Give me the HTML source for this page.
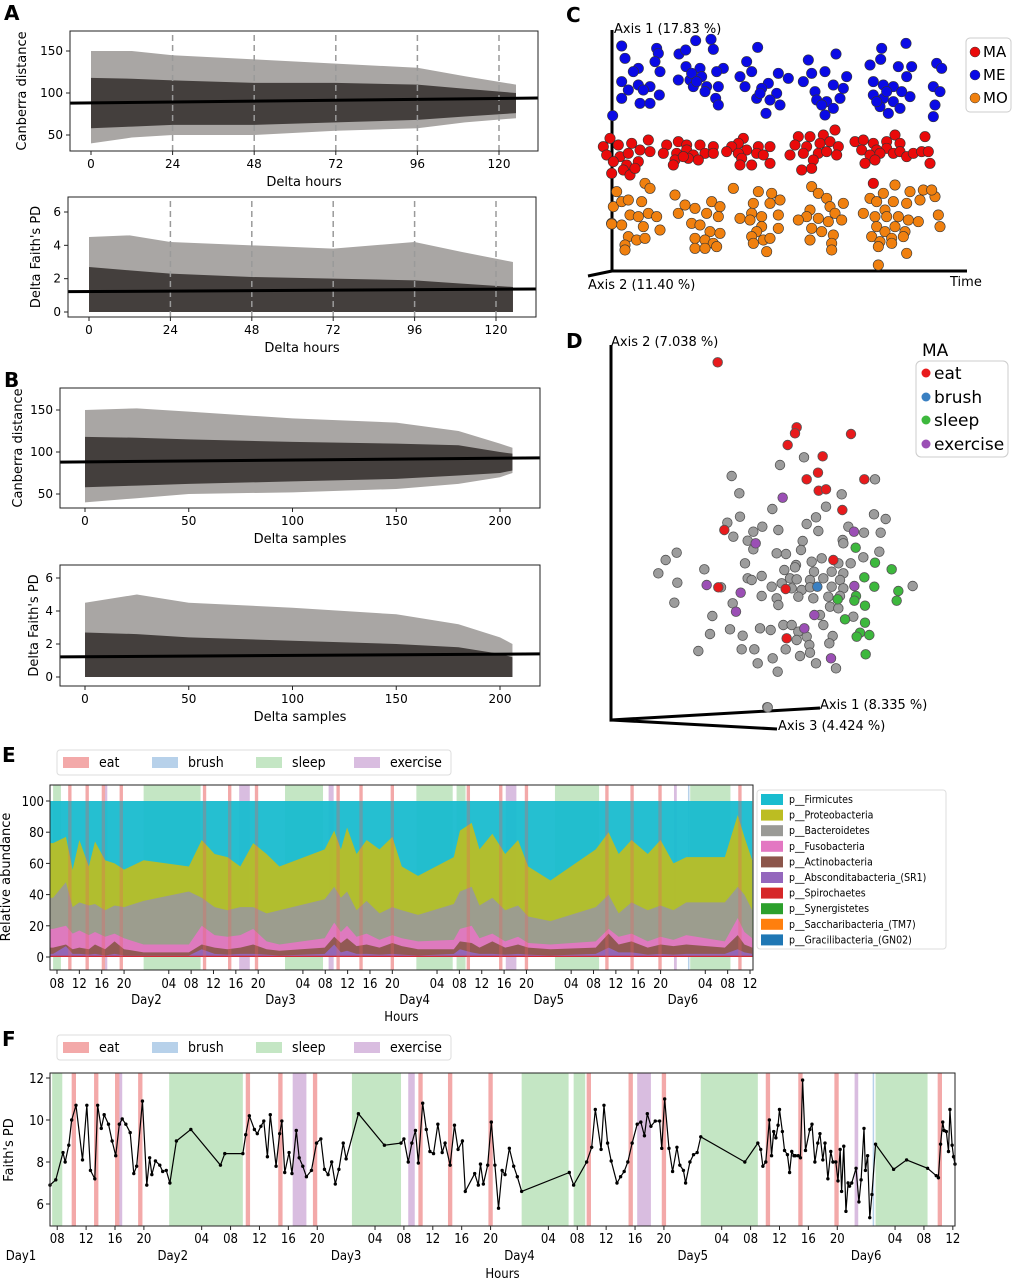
<!DOCTYPE html>
<html><head><meta charset="utf-8">
<style>
html,body{margin:0;padding:0;background:#fff;}
svg{display:block;font-family:"DejaVu Sans","Liberation Sans",sans-serif;}
.cond{font-family:"DejaVu Sans Condensed","DejaVu Sans","Liberation Sans",sans-serif;}
</style></head>
<body>
<svg id="fig" width="1012" height="1280" viewBox="0 0 1012 1280" xmlns="http://www.w3.org/2000/svg">
<text x="4" y="20" font-size="20" font-weight="bold">A</text>
<text x="4" y="387" font-size="20" font-weight="bold">B</text>
<text x="566" y="22" font-size="20" font-weight="bold">C</text>
<text x="566" y="348" font-size="20" font-weight="bold">D</text>
<text x="2" y="762" font-size="20" font-weight="bold">E</text>
<text x="2" y="1046" font-size="20" font-weight="bold">F</text>
<g id="gA1"></g>
<g id="gA2"></g>
<g id="gB1"></g>
<g id="gB2"></g>
<g id="gC"></g>
<g id="gD"></g>
<g id="gE" class="cond"></g>
<g id="gF" class="cond"></g>
</svg>
<script>
// ---------- Panel A/B data ----------
const aHours = [0, 12, 24, 48, 72, 96, 110, 125];
const a1CoreLo = [58, 60, 62, 62, 65, 68, 72, 76];
const a1CoreHi = [118, 117, 115, 112, 112, 110, 105, 100];
const a1OuterLo = [40, 47, 50, 50, 55, 58, 65, 70];
const a1OuterHi = [150, 150, 145, 140, 135, 130, 120, 110];
const a1Fit = [88, 94];
const a2CoreLo = [0, 0, 0, 0, 0, 0, 0, 0];
const a2CoreHi = [2.7, 2.5, 2.3, 2.1, 2.0, 1.9, 1.7, 1.5];
const a2OuterHi = [4.5, 4.6, 4.2, 4.0, 3.8, 4.2, 3.6, 3.0];
const a2Fit = [1.22, 1.38];
const bSamples = [0, 25, 50, 100, 150, 180, 200, 206];
const b1CoreLo = [58, 60, 62, 65, 68, 72, 75, 78];
const b1CoreHi = [118, 117, 115, 112, 110, 108, 100, 98];
const b1OuterLo = [40, 45, 50, 52, 56, 62, 70, 75];
const b1OuterHi = [150, 152, 148, 140, 135, 125, 110, 105];
const b1Fit = [88, 93];
const b2CoreLo = [0, 0, 0, 0, 0, 0, 0, 0];
const b2CoreHi = [2.7, 2.6, 2.4, 2.2, 2.0, 1.8, 1.4, 1.2];
const b2OuterHi = [4.5, 5.0, 4.5, 4.2, 3.8, 3.2, 2.4, 2.0];
const b2Fit = [1.22, 1.4];
const aXTicks = [0, 24, 48, 72, 96, 120];
const aDashed = [24, 48, 72, 96, 120];
const bXTicks = [0, 50, 100, 150, 200];
const canTicks = [50, 100, 150];
const faithDeltaTicks = [0, 2, 4, 6];

// ---------- Panel C data ----------
const cME = [[1.85,1.38],[2.9,1.45],[2.95,1.6],[1.95,1.75],[2.85,1.85],[2.35,2.05],[2.2,2.15],[3.0,2.15],[1.85,2.45],[2.05,2.7],[2.35,2.55],[2.7,2.6],[2.5,2.7],[1.85,2.95],[2.4,3.1],[2.7,3.1],[2.98,2.85],[1.58,3.47],
[4.07,1.22],[4.53,1.18],[3.57,1.62],[3.77,1.5],[4.6,1.48],[3.78,2.0],[4.2,2.05],[4.9,2.05],[3.55,2.4],[3.9,2.4],[4.25,2.3],[4.7,2.15],[4.0,2.6],[4.4,2.6],[4.75,2.6],[4.35,2.75],[4.67,2.95],[4.75,3.15],[3.95,2.2],[4.1,2.45],
[5.93,1.42],[5.6,1.85],[5.75,2.15],[6.55,2.2],[5.4,2.3],[6.25,2.5],[6.85,2.35],[5.55,2.6],[6.05,2.65],[6.5,2.8],[5.9,2.95],[6.3,3.0],[6.6,3.15],[6.18,3.4],[6.0,2.8],
[8.28,1.62],[7.45,1.8],[7.55,2.2],[7.95,2.15],[8.6,2.3],[7.3,2.45],[8.2,2.55],[7.65,2.75],[8.5,2.65],[7.7,3.0],[8.0,3.05],[8.4,2.95],[7.85,3.15],[8.2,3.25],[7.95,3.45],
[9.65,1.45],[10.38,1.3],[9.62,1.78],[9.3,1.95],[10.15,2.0],[10.55,2.0],[9.4,2.45],[9.7,2.55],[10.0,2.6],[10.4,2.3],[9.4,2.85],[9.7,2.95],[10.0,3.05],[10.5,2.9],[9.6,3.2],[9.85,3.4],[10.2,3.25],[9.5,3.05],[9.8,2.75],[10.25,2.75],[11.3,1.9],[11.45,2.05],[11.2,2.6],[11.4,2.75],[11.25,3.15],[11.2,3.5]];
const cMA = [[1.3,4.4],[1.5,4.15],[1.75,4.35],[2.15,4.3],[2.65,4.2],[1.4,4.65],[1.8,4.7],[2.05,4.6],[2.4,4.5],[2.7,4.55],[1.6,4.85],[2.0,4.95],[2.35,4.85],[1.55,5.2],[1.9,5.1],[2.1,5.25],[2.25,5.05],
[3.2,4.35],[3.55,4.25],[3.8,4.35],[4.2,4.35],[4.6,4.4],[3.1,4.6],[3.5,4.6],[3.8,4.5],[4.0,4.65],[4.35,4.6],[4.6,4.6],[3.45,4.8],[3.85,4.75],[4.15,4.8],[3.4,4.95],[3.7,4.7],
[5.5,4.15],[5.35,4.3],[5.15,4.4],[5.6,4.5],[5.95,4.4],[6.3,4.4],[5.0,4.55],[5.35,4.6],[5.9,4.6],[6.1,4.65],[5.45,4.75],[5.75,4.95],[6.3,4.9],[5.4,4.95],
[7.15,4.1],[7.5,4.1],[7.9,4.05],[8.25,3.9],[7.05,4.35],[7.4,4.4],[7.8,4.3],[8.1,4.25],[8.35,4.4],[6.9,4.65],[7.3,4.6],[7.75,4.6],[8.0,4.55],[8.3,4.65],[7.6,4.8],[7.25,5.1],[7.55,5.05],
[8.85,4.25],[9.1,4.2],[9.4,4.3],[9.8,4.25],[10.05,4.05],[9.05,4.5],[9.5,4.5],[9.8,4.45],[10.2,4.3],[9.3,4.65],[9.6,4.6],[10.0,4.6],[10.2,4.55],[9.15,4.9],[9.45,4.8],[10.4,4.7],[10.6,4.6],[10.85,4.55],[10.95,4.1],[11.05,4.55],[11.1,4.9],[9.4,5.5]];
const cMO = [[1.7,5.75],[2.55,5.5],[2.7,5.65],[1.6,6.2],[1.85,6.05],[2.05,6.0],[2.45,6.05],[2.1,6.45],[2.65,6.4],[2.9,6.5],[1.55,6.7],[1.85,6.75],[2.35,6.5],[2.5,6.8],[3.0,6.9],[2.05,7.1],[2.3,7.2],[2.55,7.15],[1.95,7.35],[1.95,7.5],[1.55,6.72],
[3.45,5.85],[3.75,6.15],[4.05,6.25],[4.55,6.05],[4.8,6.2],[3.55,6.4],[3.95,6.7],[4.4,6.4],[4.75,6.5],[4.2,6.75],[4.5,6.95],[4.8,7.0],[4.05,7.15],[4.35,7.2],[4.6,7.3],[4.05,7.45],[4.35,7.45],[4.7,7.4],
[5.2,5.65],[5.95,5.75],[6.35,5.8],[5.8,6.1],[6.3,6.1],[6.6,6.0],[5.75,6.4],[6.05,6.5],[6.55,6.45],[5.4,6.55],[5.7,6.6],[6.05,6.8],[6.55,6.85],[5.9,6.95],[5.75,7.1],[6.1,7.2],[6.3,7.15],[5.8,7.3],[6.2,7.55],
[7.55,5.6],[7.75,5.8],[8.0,5.95],[7.5,6.3],[8.1,6.2],[8.5,6.1],[7.4,6.5],[7.75,6.55],[8.25,6.4],[7.15,6.6],[7.55,6.85],[8.05,6.65],[8.45,6.6],[7.85,6.95],[8.2,7.05],[7.5,7.2],[8.15,7.3],[8.15,7.5],
[9.7,5.8],[10.05,5.55],[10.5,5.75],[9.3,5.95],[9.5,6.05],[9.75,6.3],[10.0,6.05],[10.4,6.1],[9.1,6.4],[9.45,6.5],[9.8,6.5],[10.15,6.5],[10.45,6.6],[9.5,6.8],[9.75,6.95],[10.05,6.8],[10.35,6.95],[9.35,7.1],[9.6,7.25],[9.95,7.15],[10.3,7.1],[9.55,7.4],[9.95,7.3],[10.4,7.6],[9.55,7.95],[10.8,6.0],[10.9,5.7],[11.25,5.9],[11.35,6.45],[11.4,6.8],[11.15,5.7],[10.75,6.65]];

// ---------- Panel D data ----------
const dGray = [[6.42,3.82],[5.7,4.05],[4.25,4.38],[8.55,4.48],[4.48,4.9],[7.55,4.93],[7.08,5.3],[5.47,5.37],[8.52,5.53],[8.87,5.67],[4.5,5.6],[6.78,5.62],[4.12,5.78],[5.17,5.9],[6.5,5.82],[4.9,6.05],[5.65,6.0],[6.85,6.03],[7.75,5.9],[8.22,6.08],[8.72,6.08],[4.3,6.2],[4.73,6.32],[6.38,6.33],[7.58,6.3],[7.6,6.4],[4.9,6.58],[5.6,6.7],[5.88,6.72],[6.33,6.6],[8.68,6.65],[2.6,6.68],[2.27,6.9],[8.2,6.82],[6.95,6.85],[4.65,7.0],[6.18,7.05],[6.65,6.95],[7.45,7.0],[7.82,7.0],[3.43,7.18],[2.05,7.3],[5.83,7.2],[6.15,7.12],[6.72,7.25],[7.25,7.25],[7.6,7.3],[4.73,7.45],[5.15,7.38],[6.0,7.45],[6.2,7.48],[6.6,7.5],[7.0,7.45],[7.5,7.5],[2.62,7.58],[4.85,7.5],[5.45,7.7],[5.75,7.6],[6.05,7.75],[6.35,7.8],[6.6,7.72],[7.25,7.7],[7.6,7.75],[9.68,7.68],[3.93,7.72],[5.15,7.98],[5.6,8.05],[6.25,8.0],[6.7,8.05],[7.15,8.0],[7.5,7.98],[2.53,8.18],[4.28,8.2],[5.65,8.25],[7.2,8.3],[7.45,8.35],[6.9,8.55],[7.9,8.6],[3.67,8.58],[5.8,8.85],[6.05,8.85],[7.0,8.85],[5.1,8.95],[5.42,9.0],[4.2,8.98],[3.6,9.12],[4.58,9.17],[6.25,9.05],[6.5,9.2],[7.28,9.18],[6.2,9.3],[7.18,9.4],[6.58,9.45],[4.55,9.58],[4.93,9.58],[5.87,9.58],[6.6,9.68],[3.25,9.63],[6.3,9.78],[5.48,9.85],[6.78,10.0],[5.03,10.0],[5.63,10.25],[7.38,10.15],[5.33,11.32]];
const dEat = [[3.83,0.97],[6.2,2.92],[6.15,3.1],[5.93,3.45],[7.83,3.12],[6.98,3.79],[6.84,4.28],[6.5,4.48],[8.23,4.48],[6.86,4.82],[7.08,4.78],[7.57,5.4],[4.03,6.0],[3.85,7.72],[5.9,9.25],[7.3,6.9],[5.87,7.77]];
const dBrush = [[6.82,7.7]];
const dSleep = [[7.97,6.53],[8.55,6.98],[9.05,7.18],[8.23,7.42],[8.53,7.7],[9.25,7.83],[9.2,8.12],[7.43,8.08],[7.98,7.98],[7.93,8.12],[8.25,8.27],[7.65,8.68],[8.25,8.78],[8.1,9.08],[8.38,9.15],[8.0,9.2],[8.27,9.73]];
const dExercise = [[5.78,5.03],[4.97,6.4],[7.92,6.05],[3.5,7.65],[4.52,7.88],[4.38,8.45],[6.73,8.55],[6.43,8.95],[7.23,9.85],[7.93,7.68]];

// ---------- Shared event data (hours since Day1 00:00) ----------
const eatHours = [10.3,13.4,16.3,19.5,34.4,38.9,43.7,58.3,62.4,68.0,81.6,87.4,92.0,106.4,110.9,115.9,130.2];
const sleepSpans = [[7.3,8.7],[23.5,33.7],[48.8,55.6],[72.3,78.8],[79.5,81.1],[97.1,105.0],[121.3,128.5]];
const exerciseSpans = [[16.5,17.0],[40.6,42.5],[56.6,57.5],[88.3,90.2],[118.4,118.9]];
const brushHours = [120.9];

// ---------- Panel E data (cumulative stacked levels, %) ----------
const sampleHours = [7.3,9.6,10.8,12,13.7,14.8,16.6,18.3,20,23.5,31.6,33.9,36.2,38.5,40.8,43.1,45.5,47.8,55.9,57.6,58.8,59.9,61.6,63.4,65.7,68,69.7,72.6,79,80.1,82.2,83.6,85.9,88.2,90.5,92.3,96.3,104.4,106.7,108.5,110.8,113.7,116,118.3,120.6,127.5,129.8,131,132.4];
const levelProteo = [73,77,56,75,58,74,62,60,56,62,58,75,66,64,58,73,66,58,69,81,69,83,66,75,69,77,58,52,64,81,86,69,79,66,75,58,49,69,80,66,75,66,75,60,64,64,91,77,62];
const levelBacter = [38,48,32,35,33,34,30,33,32,36,42,38,32,30,32,32,28,30,37,45,38,42,30,36,28,32,30,27,34,42,45,33,38,30,33,26,23,32,40,28,35,30,33,30,35,35,45,40,30];
const levelFuso = [18,20,15,17,14,16,13,15,12,8,8,20,14,13,14,18,10,8,12,22,16,20,13,15,11,14,12,10,11,18,20,12,15,10,13,9,8,10,18,13,15,10,13,11,14,10,25,16,12];
const levelActino = [6,8,5,6,5,8,5,10,5,3,3,8,6,5,6,8,5,4,6,13,9,12,7,8,6,9,7,5,5,10,9,6,10,6,8,6,5,6,15,8,10,6,8,7,8,6,14,8,6];
const levelSR1 = [2,7,2,2,1.5,2,1,2,1,1,1,5,2,1.5,2,2,1.5,1,2,8,3,4,2,2,1.5,2,1.5,1,2,5,3,2,2,1.5,2,1.5,1,2,6,3,3,1.5,2,1.5,2,2,5,3,2];
const levelSpiro = [0.8,0.8,0.8,0.8,0.8,0.8,0.8,0.8,0.8,0.8,0.8,0.8,0.8,0.8,0.8,0.8,0.8,0.8,0.8,0.8,0.8,0.8,0.8,0.8,0.8,0.8,0.8,0.8,0.8,0.8,0.8,0.8,0.8,0.8,0.8,0.8,0.8,0.8,0.8,0.8,0.8,0.8,0.8,0.8,0.8,0.8,0.8,0.8,0.8];
const phylumNames = ["p__Firmicutes","p__Proteobacteria","p__Bacteroidetes","p__Fusobacteria","p__Actinobacteria","p__Absconditabacteria_(SR1)","p__Spirochaetes","p__Synergistetes","p__Saccharibacteria_(TM7)","p__Gracilibacteria_(GN02)"];
const eYTicks = [0,20,40,60,80,100];

// ---------- Panel F data ----------
const fHours = [7.0,7.8,8.8,9.1,9.6,10.0,10.6,11.5,12.1,12.6,13.2,13.6,14.1,14.5,15.1,15.6,16.1,16.6,17.0,17.5,18.1,18.6,19.0,19.8,20.4,20.8,21.1,21.6,22.2,22.6,23.1,23.6,24.5,26.5,30.6,31.2,33.7,34.1,34.6,35.3,35.7,36.2,36.6,37.1,37.5,38.3,38.8,39.1,39.5,40.1,40.5,41.1,41.5,42.0,42.5,43.2,43.9,44.5,45.0,45.5,46.0,46.5,47.0,47.6,48.0,49.7,53.3,55.6,56.0,56.6,57.1,57.6,58.0,58.6,59.1,59.6,60.1,60.7,61.3,61.7,62.4,63.0,63.5,64.1,64.5,65.8,66.3,66.6,67.0,67.6,68.1,68.6,69.1,69.6,70.0,70.6,71.2,71.7,72.3,78.9,79.5,81.3,82.0,82.5,83.3,83.7,84.2,84.7,85.5,86.0,86.5,87.0,87.6,88.3,88.8,89.3,89.7,90.2,90.8,91.4,91.7,92.1,92.7,93.2,93.8,94.2,94.7,95.0,95.6,96.1,96.6,97.1,103.2,105.0,105.4,105.7,106.1,106.6,106.9,107.2,107.5,107.8,108.0,108.4,108.7,109.1,109.4,109.7,110.0,110.2,110.6,110.9,111.2,111.6,112.2,112.5,112.9,113.3,113.6,114.0,114.3,114.7,115.1,115.4,115.8,116.1,116.4,116.6,116.9,117.2,117.5,117.7,118.0,118.6,119.0,119.3,119.7,119.9,120.2,120.5,120.8,121.3,123.8,125.6,128.5,129.7,130.0,130.3,130.6,130.8,131.1,131.4,131.6,131.9,132.1,132.3];
const fValues = [6.9,7.15,8.45,8.0,8.8,10.0,10.7,8.1,10.7,7.6,7.2,10.7,9.6,10.25,9.8,9.0,8.3,9.8,10.05,9.8,9.4,7.45,7.8,10.9,6.9,8.2,7.4,8.05,7.85,7.55,7.6,7.0,9.0,9.55,7.85,8.4,8.4,9.3,10.2,9.55,9.35,9.7,9.95,8.25,10.25,7.8,9.35,9.95,7.5,8.45,7.45,9.5,8.2,7.8,7.3,7.6,8.9,9.1,7.65,7.4,8.0,6.95,7.65,8.9,8.15,10.3,8.8,8.9,9.1,8.0,8.9,9.5,7.95,10.8,9.55,8.5,8.4,9.8,8.45,8.9,7.85,9.75,8.6,9.0,6.6,7.45,6.9,7.9,6.95,7.85,9.9,7.85,5.8,7.6,7.4,8.65,7.8,7.3,6.6,7.5,6.9,8.0,8.7,10.5,8.6,10.7,8.9,8.05,7.0,7.3,7.55,8.0,8.9,9.8,9.9,9.25,10.3,9.7,9.95,9.95,8.65,11.0,8.65,7.55,8.7,7.85,7.6,7.0,8.0,8.35,8.45,9.2,8.0,8.9,8.6,7.8,8.0,10.0,8.3,9.45,9.15,9.75,10.5,9.45,8.55,8.35,7.5,8.5,8.3,8.3,8.3,8.2,11.9,8.55,9.55,9.8,8.0,8.9,9.35,8.1,8.9,7.2,8.5,8.0,8.0,7.1,8.6,6.6,8.75,5.65,7.0,6.85,7.0,7.7,6.1,7.15,9.6,7.6,8.3,5.35,6.45,8.85,7.65,8.1,7.7,7.35,7.25,8.85,9.9,9.5,9.45,8.5,10.5,8.8,8.25,7.9];
const fYTicks = [6,8,10,12];

// ---------- helpers ----------
const NS = 'http://www.w3.org/2000/svg';
function lin(d0, d1, r0, r1) { return v => r0 + (v - d0) * (r1 - r0) / (d1 - d0); }
function mk(parent, tag, attrs, txt) {
  const e = document.createElementNS(NS, tag);
  for (const k in attrs) e.setAttribute(k, attrs[k]);
  if (txt !== undefined) e.textContent = txt;
  parent.appendChild(e);
  return e;
}
function domainFrom(p0, v0, p1, v1, l, r) { const s = (p1-p0)/(v1-v0); return [v0 + (l-p0)/s, v0 + (r-p0)/s]; }

// ---------- scatter cloud panel ----------
function cloudPanel(gid, box, xd, yd, xs, lo1, hi1, lo2, hi2, fit, xticks, yticks, dashed, xlabel, ylabel, ylabX) {
  const g = document.getElementById(gid);
  const X = lin(xd[0], xd[1], box.l, box.r), Y = lin(yd[0], yd[1], box.b, box.t);
  let pts = xs.map((x,i)=>X(x)+','+Y(hi2[i])).join(' ') + ' ' + xs.slice().reverse().map((x,i)=>X(x)+','+Y(lo2[xs.length-1-i])).join(' ');
  const outer = mk(g, 'polygon', {points: pts, fill: '#a9a6a4', stroke: 'none'});
  
  
  pts = xs.map((x,i)=>X(x)+','+Y(hi1[i])).join(' ') + ' ' + xs.slice().reverse().map((x,i)=>X(x)+','+Y(lo1[xs.length-1-i])).join(' ');
  const core = mk(g, 'polygon', {points: pts, fill: '#443f3d', stroke: 'none'});
  
  
  dashed.forEach(d => {
    const l = mk(g, 'line', {x1: X(d), x2: X(d), y1: box.t + 4, y2: box.b, stroke: '#9a9a9a', 'stroke-width': 1.5, 'stroke-dasharray': '6,4'});
    
    
  });
  const fl = mk(g, 'line', {x1: box.l, x2: box.r, y1: Y(fit[0]), y2: Y(fit[1]), stroke: '#000', 'stroke-width': 3});
  
  
  const fr = mk(g, 'rect', {x: box.l, y: box.t, width: box.r-box.l, height: box.b-box.t, fill: 'none', stroke: '#222', 'stroke-width': 1});
  
  
  xticks.forEach(t => {
    const tk = mk(g, 'line', {x1: X(t), x2: X(t), y1: box.b, y2: box.b+4, stroke: '#222'});
    
    
    const tl = mk(g, 'text', {x: X(t), y: box.b+17, 'font-size': 12, 'text-anchor': 'middle'}, String(t));
    
    
  });
  yticks.forEach(t => {
    const tk = mk(g, 'line', {x1: box.l-4, x2: box.l, y1: Y(t), y2: Y(t), stroke: '#222'});
    
    
    const tl = mk(g, 'text', {x: box.l-7, y: Y(t)+4, 'font-size': 12, 'text-anchor': 'end'}, String(t));
    
    
  });
  const xl = mk(g, 'text', {x: (box.l+box.r)/2, y: box.b+35, 'font-size': 13, 'text-anchor': 'middle'}, xlabel);
  
  
  const cy = (box.t+box.b)/2;
  const yl = mk(g, 'text', {x: ylabX, y: cy, 'font-size': 13, 'text-anchor': 'middle', transform: 'rotate(-90 '+ylabX+' '+cy+')'}, ylabel);
  
  
}
cloudPanel('gA1', {l:70,r:538,t:31,b:151}, domainFrom(91,0,499,120,70,538), domainFrom(135,50,51,150,151,31), aHours, a1CoreLo, a1CoreHi, a1OuterLo, a1OuterHi, a1Fit, aXTicks, canTicks, aDashed, 'Delta hours', 'Canberra distance', 26);
cloudPanel('gA2', {l:68,r:536,t:197,b:317}, domainFrom(89,0,496,120,68,536), domainFrom(312,0,212,6,317,197), aHours, a2CoreLo, a2CoreHi, a2CoreLo, a2OuterHi, a2Fit, aXTicks, faithDeltaTicks, aDashed, 'Delta hours', "Delta Faith's PD", 40);
cloudPanel('gB1', {l:60,r:540,t:388,b:508}, domainFrom(85,0,500,200,60,540), domainFrom(494,50,410,150,508,388), bSamples, b1CoreLo, b1CoreHi, b1OuterLo, b1OuterHi, b1Fit, bXTicks, canTicks, [], 'Delta samples', 'Canberra distance', 22);
cloudPanel('gB2', {l:60,r:540,t:565,b:686}, domainFrom(85,0,500,200,60,540), domainFrom(677,0,578,6,686,565), bSamples, b2CoreLo, b2CoreHi, b2CoreLo, b2OuterHi, b2Fit, bXTicks, faithDeltaTicks, [], 'Delta samples', "Delta Faith's PD", 38);

// ---------- Panel C ----------
(function(){
  const g = document.getElementById('gC');
  const X = lin(0, 10, 560, 560+1000/3), Y = lin(0, 10, 0, 1000/3);
  const ax = mk(g, 'path', {d: 'M612,30 L612,271 L967,271 M612,271 L588,276', stroke: '#000', 'stroke-width': 3, fill: 'none'});
  
  
  const groups = [[cME,'#0a0ae6','me-point'],[cMA,'#ea0a0a','ma-point'],[cMO,'#f0800f','mo-point']];
  groups.forEach(([arr,col,nm]) => arr.forEach(p => {
    const c = mk(g, 'circle', {cx: X(p[0]), cy: Y(p[1]), r: 5.2, fill: col, stroke: '#333', 'stroke-width': 0.6});
    
    
  }));
  const t1 = mk(g, 'text', {x: 614, y: 33, 'font-size': 13}, 'Axis 1 (17.83 %)');
  
  
  const t2 = mk(g, 'text', {x: 588, y: 289, 'font-size': 13}, 'Axis 2 (11.40 %)');
  
  
  const t3 = mk(g, 'text', {x: 950, y: 286, 'font-size': 13}, 'Time');
  
  
  const lb = mk(g, 'rect', {x: 966, y: 38, width: 45, height: 74, rx: 4, fill: '#fff', stroke: '#ccc'});
  
  
  [['MA','#ea0a0a',52],['ME','#0a0ae6',75],['MO','#f0800f',98]].forEach(([n,c,y]) => {
    const d = mk(g, 'circle', {cx: 975, cy: y, r: 5, fill: c, stroke: '#333', 'stroke-width': 0.5});
    
    
    const t = mk(g, 'text', {x: 983, y: y+5, 'font-size': 15}, n);
    
    
  });
})();

// ---------- Panel D ----------
(function(){
  const g = document.getElementById('gD');
  const X = lin(0, 10, 590, 590+1000/3), Y = lin(0, 10, 330, 330+1000/3);
  const ax = mk(g, 'path', {d: 'M611,345 L611,720 L820,708 M611,720 L777,729', stroke: '#000', 'stroke-width': 3, fill: 'none'});
  
  
  const gp = mk(g, 'circle', {cx: 767, cy: 707, r: 4.5, fill: '#9a9a9a', stroke: '#555', 'stroke-width': 0.8});
  
  
  const groups = [[dGray,'#9c9c9c','sample-point'],[dEat,'#e81a1c','eat-point'],[dBrush,'#3a80c2','brush-point'],[dSleep,'#3db83d','sleep-point'],[dExercise,'#9b4fb5','exercise-point']];
  groups.forEach(([arr,col,nm]) => arr.forEach(p => {
    const c = mk(g, 'circle', {cx: X(p[0]), cy: Y(p[1]), r: 4.8, fill: col, stroke: '#555', 'stroke-width': 0.8});
    
    
  }));
  const t1 = mk(g, 'text', {x: 611, y: 346, 'font-size': 13}, 'Axis 2 (7.038 %)');
  
  
  const t2 = mk(g, 'text', {x: 820, y: 709, 'font-size': 13}, 'Axis 1 (8.335 %)');
  
  
  const t3 = mk(g, 'text', {x: 778, y: 730, 'font-size': 13}, 'Axis 3 (4.424 %)');
  
  
  const mt = mk(g, 'text', {x: 922, y: 356, 'font-size': 17}, 'MA');
  
  
  const lb = mk(g, 'rect', {x: 916, y: 361, width: 92, height: 96, rx: 5, fill: '#fff', stroke: '#ccc'});
  
  
  [['eat','#e81a1c',373],['brush','#3a80c2',397],['sleep','#3db83d',420],['exercise','#9b4fb5',444]].forEach(([n,c,y]) => {
    const d = mk(g, 'circle', {cx: 926, cy: y, r: 4.5, fill: c});
    
    
    const t = mk(g, 'text', {x: 934, y: y+6, 'font-size': 17}, n);
    
    
  });
})();

// ---------- Event backgrounds & time axis ----------
function drawEvents(g, X, top, bot) {
  sleepSpans.forEach(s => {
    const r = mk(g, 'rect', {x: X(s[0]), y: top, width: X(s[1])-X(s[0]), height: bot-top, fill: '#c4e6c4'});
    
    
  });
  exerciseSpans.forEach(s => {
    const r = mk(g, 'rect', {x: X(s[0]), y: top, width: X(s[1])-X(s[0]), height: bot-top, fill: '#d9bde0'});
    
    
  });
  brushHours.forEach(h => {
    const r = mk(g, 'rect', {x: X(h), y: top, width: 1.5, height: bot-top, fill: '#b7d1ea'});
    
    
  });
  eatHours.forEach(h => {
    const r = mk(g, 'rect', {x: X(h-0.3), y: top, width: X(h+0.3)-X(h-0.3), height: bot-top, fill: '#f3a9a9'});
    
    
  });
}
function drawTimeAxis(g, X, h0, h1, bot, tickY, dayY, hoursY, day1X) {
  for (let h = Math.ceil(h0); h <= h1; h++) {
    const m = h % 24;
    if (m % 4 !== 0 || m === 0) continue;
    const tk = mk(g, 'line', {x1: X(h), x2: X(h), y1: bot, y2: bot+4, stroke: '#222'});
    
    
    const tl = mk(g, 'text', {x: X(h), y: tickY, 'font-size': 13, 'text-anchor': 'middle'}, (m<10?'0':'')+m);
    
    
  }
  for (let d = 1; d <= 5; d++) {
    const dl = mk(g, 'text', {x: X(24*d), y: dayY, 'font-size': 13, 'text-anchor': 'middle'}, 'Day'+(d+1));
    
    
  }
  if (day1X) {
    const d1 = mk(g, 'text', {x: day1X, y: dayY, 'font-size': 13, 'text-anchor': 'middle'}, 'Day1');
    
    
  }
  const hl = mk(g, 'text', {x: (X(h0)+X(h1))/2, y: hoursY, 'font-size': 13, 'text-anchor': 'middle'}, 'Hours');
  
  
}
function drawEventLegend(g, x, y) {
  const b = mk(g, 'rect', {x: x, y: y, width: 394, height: 25, rx: 3, fill: '#fff', stroke: '#ddd'});
  
  
  [['eat','#f3a9a9',6],['brush','#b7d1ea',95],['sleep','#c4e6c4',199],['exercise','#d9bde0',297]].forEach(([n,c,dx]) => {
    const s = mk(g, 'rect', {x: x+dx, y: y+7, width: 26, height: 11, fill: c});
    
    
    const t = mk(g, 'text', {x: x+dx+36, y: y+17, 'font-size': 14}, n);
    
    
  });
}

// ---------- Panel E ----------
(function(){
  const g = document.getElementById('gE');
  const box = {l:50, r:753, t:785, b:970};
  const X = lin(8, 132, 57, 750), Y = lin(0, 100, 957, 801);
  const h0 = 6.75, h1 = 132.5;
  drawEvents(g, X, box.t, box.b);
  const fr0 = mk(g, 'rect', {x: X(h0), y: Y(100), width: X(sampleHours[sampleHours.length-1])-X(h0), height: Y(0)-Y(100), fill: '#19bccf', opacity: 0.95});
  
  
  const layers = [[levelProteo,'#bcbd22','area-proteobacteria'],[levelBacter,'#9a9a96','area-bacteroidetes'],[levelFuso,'#e377c2','area-fusobacteria'],[levelActino,'#8c564b','area-actinobacteria'],[levelSR1,'#9467bd','area-sr1'],[levelSpiro,'#d62728','area-spirochaetes']];
  layers.forEach(([arr,col,nm]) => {
    let d = 'M'+X(h0)+','+Y(0)+' L'+X(h0)+','+Y(arr[0]);
    sampleHours.forEach((h,i) => { d += ' L'+X(h)+','+Y(arr[i]); });
    d += ' L'+X(sampleHours[sampleHours.length-1])+','+Y(0)+' Z';
    const p = mk(g, 'path', {d: d, fill: col, opacity: 0.93});
    
    
  });
  eatHours.forEach(h => {
    const r = mk(g, 'rect', {x: X(h-0.3), y: Y(100), width: X(h+0.3)-X(h-0.3), height: Y(0)-Y(100), fill: '#f06060', opacity: 0.3});
    
    
  });
  const fr = mk(g, 'rect', {x: box.l, y: box.t, width: box.r-box.l, height: box.b-box.t, fill: 'none', stroke: '#222'});
  
  
  eYTicks.forEach(t => {
    const tk = mk(g, 'line', {x1: box.l-4, x2: box.l, y1: Y(t), y2: Y(t), stroke: '#222'});
    
    
    const tl = mk(g, 'text', {x: box.l-6, y: Y(t)+5, 'font-size': 13, 'text-anchor': 'end'}, String(t));
    
    
  });
  const yl = mk(g, 'text', {x: 10, y: 877, 'font-size': 13, 'text-anchor': 'middle', transform: 'rotate(-90 10 877)', style: 'font-family:DejaVu Sans,sans-serif'}, 'Relative abundance');
  
  
  drawTimeAxis(g, X, h0, h1, box.b, 988, 1004, 1021, null);
  drawEventLegend(g, 57, 750);
  const lb = mk(g, 'rect', {x: 757, y: 790, width: 189, height: 159, rx: 3, fill: '#fff', stroke: '#ddd'});
  
  
  const cols = ['#19bccf','#bcbd22','#9a9a96','#e377c2','#8c564b','#9467bd','#d62728','#2ca02c','#ff7f0e','#1f77b4'];
  phylumNames.forEach((n,i) => {
    const y = 799 + i*15.6;
    const s = mk(g, 'rect', {x: 761, y: y-5, width: 22, height: 11, fill: cols[i]});
    
    
    const t = mk(g, 'text', {x: 789, y: y+4, 'font-size': 10.5}, n);
    
    
  });
})();

// ---------- Panel F ----------
(function(){
  const g = document.getElementById('gF');
  const box = {l:50, r:955, t:1073, b:1226};
  const h0 = 7.0, h1 = 132.3;
  const X = lin(h0, h1, box.l, box.r), Y = lin(6, 12, 1204, 1078);
  drawEvents(g, X, box.t, box.b);
  const line = mk(g, 'polyline', {points: fHours.map((h,i)=>X(h)+','+Y(fValues[i])).join(' '), fill: 'none', stroke: '#000', 'stroke-width': 1.2});
  
  
  fHours.forEach((h,i) => {
    const c = mk(g, 'circle', {cx: X(h), cy: Y(fValues[i]), r: 1.7, fill: '#000'});
    
    
  });
  const fr = mk(g, 'rect', {x: box.l, y: box.t, width: box.r-box.l, height: box.b-box.t, fill: 'none', stroke: '#222'});
  
  
  fYTicks.forEach(t => {
    const tk = mk(g, 'line', {x1: box.l-4, x2: box.l, y1: Y(t), y2: Y(t), stroke: '#222'});
    
    
    const tl = mk(g, 'text', {x: box.l-6, y: Y(t)+5, 'font-size': 13, 'text-anchor': 'end'}, String(t));
    
    
  });
  const yl = mk(g, 'text', {x: 13, y: 1150, 'font-size': 13, 'text-anchor': 'middle', transform: 'rotate(-90 13 1150)', style: 'font-family:DejaVu Sans,sans-serif'}, "Faith's PD");
  
  
  drawTimeAxis(g, X, h0, h1, box.b, 1243, 1260, 1278, 21);
  drawEventLegend(g, 57, 1035);
})();
</script>
</body></html>
